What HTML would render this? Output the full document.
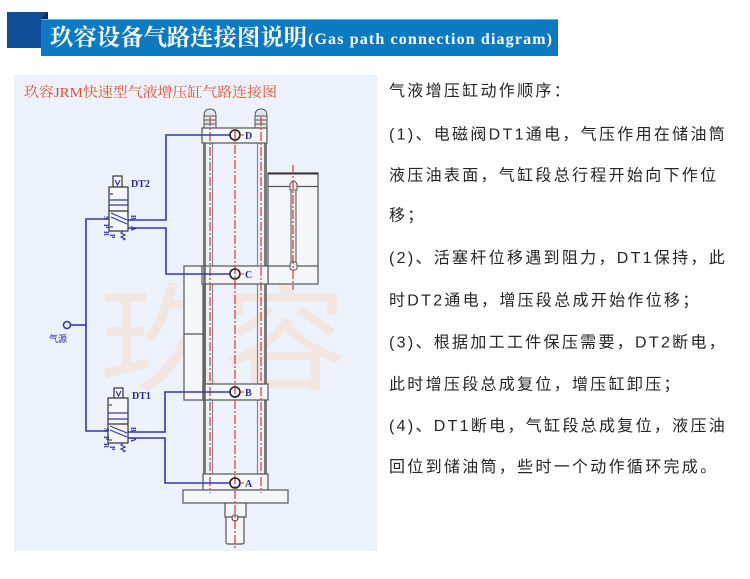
<!DOCTYPE html>
<html><head><meta charset="utf-8"><style>
html,body{margin:0;padding:0;background:#fff;}
svg{display:block;}
.cj{font-family:"Liberation Sans","Noto Sans CJK SC",sans-serif;}
</style></head><body>
<svg width="750" height="579" viewBox="0 0 750 579" xmlns="http://www.w3.org/2000/svg">
<!-- header -->
<rect x="7" y="12" width="41" height="36" fill="#0f4d97"/>
<polygon points="41,19 48,12 48,19" fill="#0a2a5c"/>
<rect x="41" y="19" width="517" height="37" fill="#0b7ac2"/>
<line x1="41" y1="19.5" x2="558" y2="19.5" stroke="#5fb0e2" stroke-width="1"/>
<text x="50" y="45" font-family="'Liberation Serif','Noto Serif CJK SC',serif" font-weight="bold" font-size="23" fill="#fff" textLength="257" lengthAdjust="spacingAndGlyphs">玖容设备气路连接图说明</text>
<text x="308" y="44" font-family="'Liberation Serif',serif" font-weight="bold" font-size="16" fill="#fff" textLength="244" lengthAdjust="spacing">(Gas path connection diagram)</text>

<!-- panel -->
<rect x="14" y="75" width="363" height="476" fill="#edf1f9"/>
<text x="24" y="97" font-family="'Liberation Serif','Noto Serif CJK SC',serif" font-size="14" fill="#d8553a" textLength="253" lengthAdjust="spacingAndGlyphs">玖容JRM快速型气液增压缸气路连接图</text>
<!-- watermark -->
<text x="100" y="382" font-family="'Noto Sans CJK SC',sans-serif" font-size="118" fill="#f2e6e3" textLength="247" lengthAdjust="spacingAndGlyphs">玖容</text>

<!-- cylinder tubes / rods -->
<g>
<rect x="203" y="143" width="3" height="331" fill="#7b7b7b"/>
<line x1="212.5" y1="143" x2="212.5" y2="474" stroke="#8a8a8a" stroke-width="1.2"/>
<line x1="257.5" y1="143" x2="257.5" y2="474" stroke="#8a8a8a" stroke-width="1.2"/>
<rect x="264" y="143" width="3" height="331" fill="#7b7b7b"/>
</g>
<!-- nuts -->
<g stroke="#555" stroke-width="1" fill="#e4e6ea">
<path d="M204,128 V116 Q204,109 210,109 Q216,109 216,116 V128 Z"/>
<path d="M255,128 V116 Q255,109 261,109 Q267,109 267,116 V128 Z"/>
<line x1="204" y1="116" x2="216" y2="116"/><line x1="204" y1="120" x2="216" y2="120"/><line x1="204" y1="124" x2="216" y2="124"/>
<line x1="255" y1="116" x2="267" y2="116"/><line x1="255" y1="120" x2="267" y2="120"/><line x1="255" y1="124" x2="267" y2="124"/>
</g>
<!-- plates -->
<g stroke="#555" stroke-width="1.2" fill="#f4f6fa">
<rect x="184" y="266" width="19" height="134"/>
<line x1="184" y1="334" x2="203" y2="334"/>
<rect x="268" y="173" width="50" height="111"/>
<line x1="268" y1="186.5" x2="318" y2="186.5"/>
<line x1="268" y1="266" x2="318" y2="266"/>
<rect x="202" y="128" width="65" height="15"/>
<rect x="202" y="266" width="66" height="18"/>
<rect x="203" y="384" width="65" height="16"/>
<rect x="203" y="474" width="65" height="16"/>
<rect x="183" y="490" width="105" height="13"/>
<rect x="225" y="503" width="21" height="14"/>
<path d="M226,517 H244 V542 Q244,544 242,544 H228 Q226,544 226,542 Z"/>
<circle cx="235" cy="518" r="3"/>
</g>
<line x1="268" y1="173.5" x2="318" y2="173.5" stroke="#333" stroke-width="2"/>
<line x1="204.5" y1="266" x2="204.5" y2="400" stroke="#666" stroke-width="2.5"/>
<!-- sight glass -->
<g stroke="#555" stroke-width="1" fill="#e8eaee">
<rect x="291" y="188" width="5" height="74"/>
<path d="M290,190 V184 Q293.5,178 297,184 V190 Z"/>
<rect x="290" y="262" width="7" height="8" rx="2"/>
</g>
<!-- red centre lines -->
<g stroke="#cc3b3b" stroke-width="1.2" fill="none" stroke-dasharray="9,2,2,2">
<line x1="210" y1="117" x2="210" y2="493"/>
<line x1="261" y1="117" x2="261" y2="493"/>
<line x1="235" y1="130" x2="235" y2="548"/>
<line x1="293" y1="165" x2="293" y2="290"/>
</g>
<!-- pipes -->
<g stroke="#3636b4" stroke-width="1.6" fill="none">
<path d="M128,220 H166 V135 H230"/>
<path d="M128,228 H166 V274 H230"/>
<path d="M109,219 H86 V431 H108"/>
<path d="M70.5,325 H86"/>
<path d="M128,432 H165 V392 H230"/>
<path d="M128,438 H165 V483 H230"/>
<circle cx="67" cy="325" r="3.5"/>
</g>
<!-- ports -->
<g stroke="#222" stroke-width="1.6" fill="none">
<circle cx="235" cy="135" r="5"/><circle cx="235" cy="274" r="5"/>
<circle cx="235" cy="392" r="5"/><circle cx="235" cy="483" r="5"/>
</g>
<g stroke="#cc3b3b" stroke-width="1">
<line x1="240" y1="135" x2="244" y2="135"/><line x1="240" y1="274" x2="244" y2="274"/>
<line x1="240" y1="392" x2="244" y2="392"/><line x1="240" y1="483" x2="244" y2="483"/>
</g>
<g font-family="'Liberation Serif',serif" font-weight="bold" font-size="10" fill="#2a2aa0">
<text x="245" y="139">D</text><text x="245" y="278">C</text>
<text x="245" y="396">B</text><text x="245" y="487">A</text>
<text x="131" y="187" font-size="10">DT2</text>
<text x="132" y="399" font-size="10">DT1</text>
</g>
<text x="49" y="342" class="cj" font-size="9" fill="#2a2aa0">气源</text>

<!-- valve DT2 -->
<g stroke="#333" stroke-width="1.2" fill="#f4f6fa">
<rect x="113" y="176" width="9" height="11"/>
<rect x="109" y="187" width="19" height="44"/>
</g>
<g stroke="#3636b4" stroke-width="1.2" fill="none">
<path d="M115,180 L117.5,185 L120,180"/>
<line x1="110" y1="194" x2="113" y2="194"/>
<line x1="109" y1="200" x2="128" y2="200"/>
<line x1="109" y1="205" x2="128" y2="205"/>
<line x1="109" y1="211" x2="128" y2="211" stroke="#333"/>
<line x1="111" y1="213" x2="127" y2="220"/>
<line x1="111" y1="217" x2="127" y2="224"/>
<line x1="110" y1="227" x2="113" y2="227"/>
<path d="M123,231 l-2,2 l4,2 l-4,2 l4,2 l-2,1"/>
</g>
<!-- valve DT1 -->
<g stroke="#333" stroke-width="1.2" fill="#f4f6fa">
<rect x="114" y="388" width="9" height="10"/>
<rect x="108" y="398" width="20" height="45"/>
</g>
<g stroke="#3636b4" stroke-width="1.2" fill="none">
<path d="M116,391 L118.5,396 L121,391"/>
<line x1="109" y1="405" x2="112" y2="405"/>
<line x1="108" y1="413" x2="128" y2="413"/>
<line x1="108" y1="419" x2="128" y2="419"/>
<line x1="108" y1="424" x2="128" y2="424" stroke="#333"/>
<line x1="110" y1="426" x2="127" y2="433"/>
<line x1="110" y1="430" x2="127" y2="437"/>
<line x1="109" y1="440" x2="112" y2="440"/>
<path d="M123,443 l-2,2 l4,2 l-4,2 l4,2 l-2,1"/>
</g>
<g font-family="'Liberation Serif',serif" font-weight="bold" font-size="7" fill="#2a2aa0">
<text transform="translate(104,216) rotate(90)">S</text>
<text transform="translate(104,224) rotate(90)">P</text>
<text transform="translate(104,231) rotate(90)">R</text>
<text transform="translate(131,215) rotate(90)">B</text>
<text transform="translate(131,226) rotate(90)">A</text>
<text transform="translate(104,428) rotate(90)">S</text>
<text transform="translate(104,436) rotate(90)">P</text>
<text transform="translate(104,443) rotate(90)">R</text>
<text transform="translate(131,427) rotate(90)">B</text>
<text transform="translate(131,437) rotate(90)">A</text>
<text transform="translate(110,446) rotate(90)">P</text>
<text transform="translate(110,234) rotate(90)">P</text>
</g>

<!-- right text -->
<g class="cj" font-size="16" fill="#262626" letter-spacing="2.3">
<text x="389" y="96">气液增压缸动作顺序：</text>
<text x="389" y="139.5">(1)、电磁阀DT1通电，气压作用在储油筒</text>
<text x="389" y="180.5">液压油表面，气缸段总行程开始向下作位</text>
<text x="389" y="220.5">移；</text>
<text x="389" y="263">(2)、活塞杆位移遇到阻力，DT1保持，此</text>
<text x="389" y="305.5">时DT2通电，增压段总成开始作位移；</text>
<text x="389" y="347.5">(3)、根据加工工件保压需要，DT2断电，</text>
<text x="389" y="389.5">此时增压段总成复位，增压缸卸压；</text>
<text x="389" y="431">(4)、DT1断电，气缸段总成复位，液压油</text>
<text x="389" y="472">回位到储油筒，些时一个动作循环完成。</text>
</g>
</svg>
</body></html>
